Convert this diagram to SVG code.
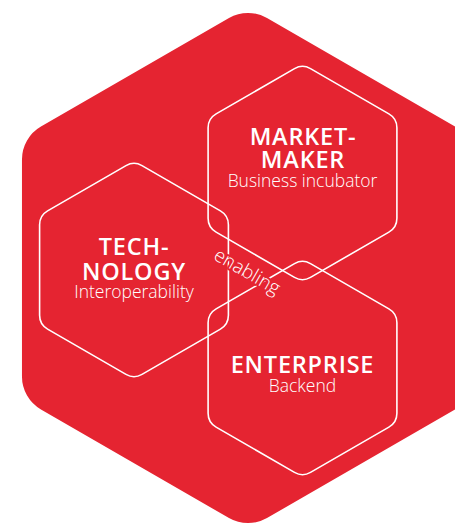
<svg xmlns="http://www.w3.org/2000/svg" width="455" height="524" viewBox="0 0 455 524">
  <style>
    .hex { fill: none; stroke: #ffffff; stroke-width: 1.6; }
    .title { font-family: "Open Sans", "Noto Sans", sans-serif; font-weight: 600; font-size: 23.5px; fill: #ffffff; text-anchor: middle; letter-spacing: 0.8px; }
    .sub { font-family: "Open Sans", "Noto Sans", sans-serif; font-weight: 300; font-size: 17.5px; fill: #ffffff; text-anchor: middle; }
    .lbl { font-family: "Open Sans", "Noto Sans", sans-serif; font-weight: 300; font-size: 19px; fill: #ffffff; text-anchor: middle; stroke: #e52431; stroke-width: 4px; paint-order: stroke; stroke-linejoin: round; }
  </style>
  <defs>
    <path id="hexShape" d="M8,-104.38 L86.4,-59.12 A16,16 0 0 1 94.4,-45.26 L94.4,45.26 A16,16 0 0 1 86.4,59.12 L8,104.38 A16,16 0 0 1 -8,104.38 L-86.4,59.12 A16,16 0 0 1 -94.4,45.26 L-94.4,-45.26 A16,16 0 0 1 -86.4,-59.12 L-8,-104.38 A16,16 0 0 1 8,-104.38 Z"/>
  </defs>
  <g id="background">
    <path fill="#e52431" d="M267,17.97 L455.03,126.53 A38,38 0 0 1 474.03,159.44 L474.03,376.56 A38,38 0 0 1 455.03,409.47 L267,518.03 A38,38 0 0 1 229,518.03 L40.97,409.47 A38,38 0 0 1 21.97,376.56 L21.97,159.44 A38,38 0 0 1 40.97,126.53 L229,17.97 A38,38 0 0 1 267,17.97 Z"/>
  </g>
  <g id="marketmaker">
    <use href="#hexShape" class="hex" x="302.5" y="173"/>
    <text class="title" x="303" y="145">MARKET-</text>
    <text class="title" x="303" y="168">MAKER</text>
    <text class="sub" x="302.5" y="187">Business incubator</text>
  </g>
  <g id="technology">
    <use href="#hexShape" class="hex" x="134" y="270"/>
    <text class="title" x="134" y="255">TECH-</text>
    <text class="title" x="134" y="280">NOLOGY</text>
    <text class="sub" x="134" y="298">Interoperability</text>
  </g>
  <g id="enterprise">
    <use href="#hexShape" class="hex" x="302.5" y="368"/>
    <text class="title" x="302.5" y="373">ENTERPRISE</text>
    <text class="sub" x="302.5" y="392">Backend</text>
  </g>
  <g id="connectors">
    <text class="lbl" transform="translate(244,277) rotate(30)">enabling</text>
  </g>
</svg>
